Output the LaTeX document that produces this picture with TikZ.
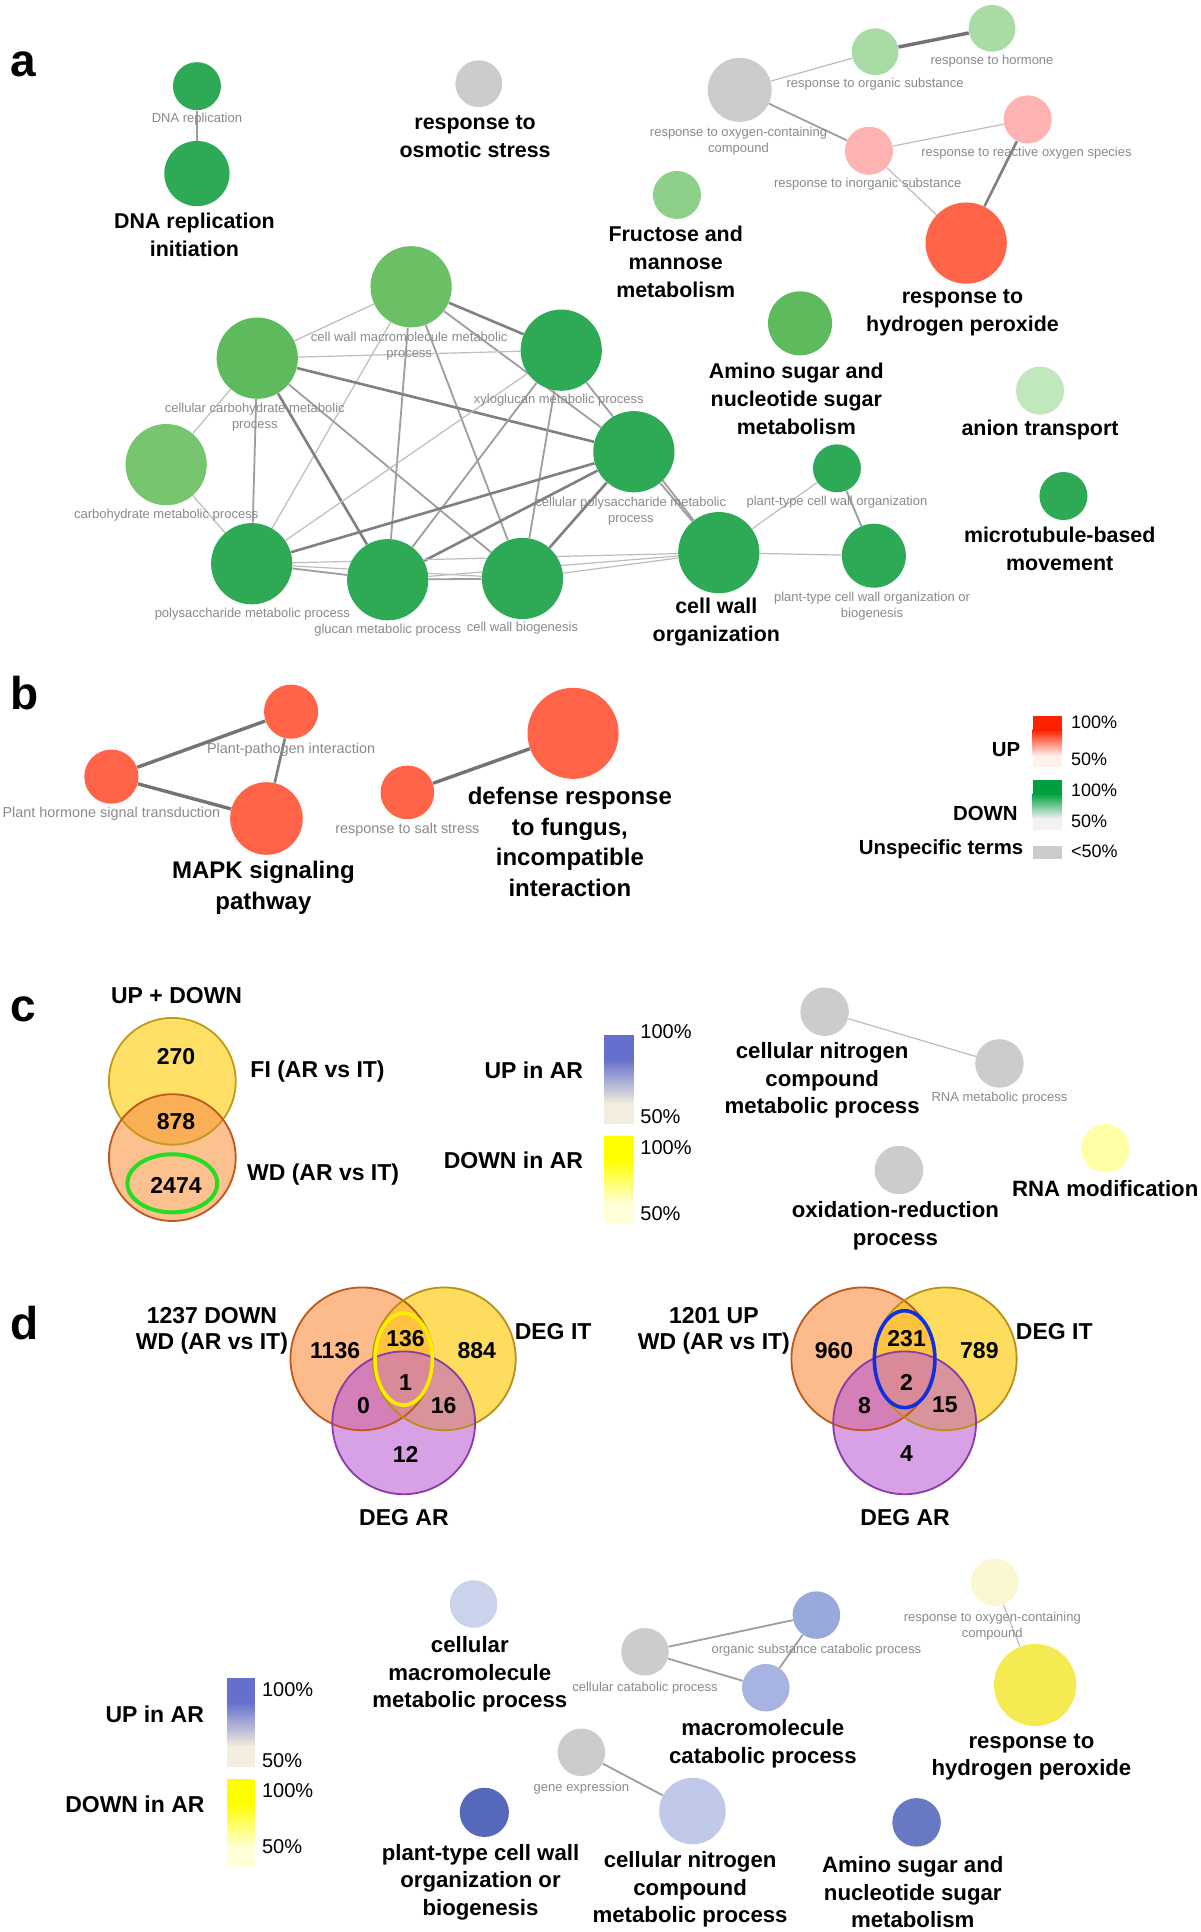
\documentclass[tikz,border=0pt]{standalone}
\usepackage{fontspec}
\setmainfont{Liberation Sans}
\pgfdeclarelayer{bgl}
\pgfdeclarelayer{edges}
\pgfsetlayers{bgl,edges,main}
% node colours
\definecolor{dg}{HTML}{2EAA57}
\definecolor{mgA}{HTML}{5DBA5D}
\definecolor{mgB}{HTML}{6BBF65}
\definecolor{mgC}{HTML}{77C56F}
\definecolor{fgr}{HTML}{8ED08A}
\definecolor{lgr}{HTML}{A9DCA5}
\definecolor{vlg}{HTML}{C1E7BD}
\definecolor{pnk}{HTML}{FFB2B2}
\definecolor{rdd}{HTML}{FF6449}
\definecolor{gry}{HTML}{CCCCCC}
\definecolor{lyel}{HTML}{FFFFA6}
\definecolor{bA}{HTML}{CBD3EC}
\definecolor{bB}{HTML}{98A9DB}
\definecolor{bC}{HTML}{A7B3E1}
\definecolor{bD}{HTML}{C1C9EB}
\definecolor{bE}{HTML}{5668B9}
\definecolor{bF}{HTML}{6878C3}
\definecolor{yA}{HTML}{FAF7D2}
\definecolor{yB}{HTML}{F6EA52}
% text / edge colours
\definecolor{glabc}{HTML}{8A8A8A}
\definecolor{ecl}{HTML}{BDBDBD}
\definecolor{ecm}{HTML}{9E9E9E}
\definecolor{ecd}{HTML}{808080}
% venn colours
\definecolor{cTop}{HTML}{FFE066}
\definecolor{cBot}{HTML}{FDC08F}
\definecolor{cInt}{HTML}{FAAE55}
\definecolor{cTopL}{HTML}{C09A1A}
\definecolor{cBotL}{HTML}{C0581B}
\definecolor{vgreen}{HTML}{22DD22}
\definecolor{dO}{HTML}{FDBB8B}
\definecolor{dY}{HTML}{FEDC5E}
\definecolor{dP}{HTML}{D8A1E6}
\definecolor{dOY}{HTML}{FFC23E}
\definecolor{dOP}{HTML}{D47FB8}
\definecolor{dYP}{HTML}{D9949B}
\definecolor{dOYP}{HTML}{D98A96}
\definecolor{dOL}{HTML}{C0571B}
\definecolor{dYL}{HTML}{B8901A}
\definecolor{dPL}{HTML}{8A3BA8}
\definecolor{innY}{HTML}{FFEE00}
\definecolor{innB}{HTML}{1030E0}
% legend colours
\definecolor{rbT}{HTML}{FF2200}
\definecolor{rbB}{HTML}{FFF2EC}
\definecolor{gbT}{HTML}{00A040}
\definecolor{gbB}{HTML}{F2F2F2}
\definecolor{ubT}{HTML}{6670CC}
\definecolor{ubB}{HTML}{F3EEDF}
\definecolor{ybT}{HTML}{FFFF00}
\definecolor{ybB}{HTML}{FFFFD8}

\newcommand\gbar[6]{%
  \fill[#5] (#1,#2) rectangle (#3,{#2+0.28*(#4-#2)});
  \shade[top color=#5,bottom color=#6] (#1,{#2+0.27*(#4-#2)}) rectangle (#3,{#2+0.78*(#4-#2)});
  \fill[#6] (#1,{#2+0.77*(#4-#2)}) rectangle (#3,#4);}

\newcommand\drawvenn[2]{%
  \fill[dO] (294,1104) circle[radius=58];
  \fill[dY] (361,1104) circle[radius=58];
  \fill[dP] (328,1156) circle[radius=58];
  \begin{scope}\clip (294,1104) circle[radius=58]; \fill[dOY] (361,1104) circle[radius=58];\end{scope}
  \begin{scope}\clip (294,1104) circle[radius=58]; \fill[dOP] (328,1156) circle[radius=58];\end{scope}
  \begin{scope}\clip (361,1104) circle[radius=58]; \fill[dYP] (328,1156) circle[radius=58];\end{scope}
  \begin{scope}\clip (294,1104) circle[radius=58]; \clip (361,1104) circle[radius=58]; \fill[dOYP] (328,1156) circle[radius=58];\end{scope}
  \draw[dOL,line width=0.9pt] (294,1104) circle[radius=58];
  \draw[dYL,line width=0.9pt] (361,1104) circle[radius=58];
  \draw[dPL,line width=0.9pt] (328,1156) circle[radius=58];
  \draw[#1,line width=1.8pt] (328,1104.3) ellipse[x radius=#2, y radius={#2*1.6}];}

\begin{document}
\begin{tikzpicture}[x=0.6154pt,y=-0.6154pt,
  bub/.style={circle,inner sep=0pt,minimum size={#1*1.2308pt}},
  glab/.style={text=glabc,font=\fontsize{6.5}{8}\selectfont,align=center,inner sep=0pt},
  glabB/.style={text=glabc,font=\fontsize{7.2}{8.6}\selectfont,align=center,inner sep=0pt},
  blabA/.style={text=black,font=\bfseries\fontsize{10.7}{14}\selectfont,align=center,inner sep=0pt},
  blabB/.style={text=black,font=\bfseries\fontsize{12}{15.4}\selectfont,align=center,inner sep=0pt},
  blabC/.style={text=black,font=\bfseries\fontsize{11.1}{13.8}\selectfont,align=center,inner sep=0pt},
  vnum/.style={font=\bfseries\fontsize{11.5}{13}\selectfont,inner sep=0pt},
  vlab/.style={font=\bfseries\fontsize{11.5}{13}\selectfont,align=center,inner sep=0pt},
  pct/.style={font=\fontsize{10}{12}\selectfont,anchor=west,inner sep=0pt},
  pctb/.style={font=\fontsize{9}{11}\selectfont,anchor=west,inner sep=0pt},
  legb/.style={font=\bfseries\fontsize{10.2}{12}\selectfont,inner sep=0pt},
  plet/.style={font=\bfseries\fontsize{23}{26}\selectfont,anchor=base west,inner sep=0pt},
  ethin/.style={draw=ecl,line width=0.6pt},
  emed/.style={draw=ecm,line width=0.9pt},
  ethk/.style={draw=ecd,line width=1.3pt},
  ebig/.style={draw=ecd!90!black,line width=1.7pt}]
\begin{pgfonlayer}{bgl}
\fill[white] (0,0) rectangle (975,1569.7);
\end{pgfonlayer}
\useasboundingbox (0,0) rectangle (975,1569.7);

% ================= panel a =================
\node[plet] (la) at (8,62.3) {a};
\node[bub=19.5,fill=dg] (dnar) at (160,70) {};
\node[glab] (dnarT) at (160,97) {DNA replication};
\node[bub=26.5,fill=dg] (dnai) at (160,141) {};
\node[blabA] (dnaiT) at (158,191) {DNA replication\\initiation};
\node[bub=19,fill=gry] (osm) at (389,68) {};
\node[blabA] (osmT) at (386,111) {response to\\osmotic stress};
\node[bub=26,fill=gry] (oxy) at (601,73) {};
\node[glab] (oxyT) at (600,114.5) {response to oxygen-containing\\compound};
\node[bub=19,fill=lgr] (org) at (711,42) {};
\node[glab] (orgT) at (711,68.5) {response to organic substance};
\node[bub=19,fill=lgr] (hor) at (806,23) {};
\node[glab] (horT) at (806,50) {response to hormone};
\node[bub=19.5,fill=pnk] (ino) at (706,122.5) {};
\node[glab] (inoT) at (705,150) {response to inorganic substance};
\node[bub=19.5,fill=pnk] (ros) at (835,97) {};
\node[glab] (rosT) at (834,124.6) {response to reactive oxygen species};
\node[bub=33,fill=rdd] (hp) at (785,197.5) {};
\node[blabA] (hpT) at (782,254) {response to\\hydrogen peroxide};
\node[bub=19.5,fill=fgr] (fru) at (550,158.4) {};
\node[blabA] (fruT) at (549,212.4) {Fructose and\\mannose\\metabolism};
\node[bub=26,fill=mgA] (ams) at (650,262.7) {};
\node[blabA] (amsT) at (647,324) {Amino sugar and\\nucleotide sugar\\metabolism};
\node[bub=19.5,fill=vlg] (ani) at (845,317.4) {};
\node[blabA] (aniT) at (845,349.4) {anion transport};
\node[bub=19.5,fill=dg] (mtb) at (864,403) {};
\node[blabA] (mtbT) at (861,445.8) {microtubule-based\\movement};

% big network
\node[bub=33,fill=mgB] (cwm) at (334,233) {};
\node[bub=33,fill=mgA] (ccm) at (209,291) {};
\node[bub=33,fill=mgC] (carb) at (135,377.5) {};
\node[bub=33,fill=dg] (xyl) at (456,284.5) {};
\node[bub=33,fill=dg] (cps) at (515,367) {};
\node[bub=33,fill=dg] (poly) at (204.5,458) {};
\node[bub=33,fill=dg] (glu) at (315,471) {};
\node[bub=33,fill=dg] (cwb) at (424.5,470) {};
\node[bub=33,fill=dg] (cwo) at (584,449) {};
\node[bub=19.5,fill=dg] (ptc) at (680,380.5) {};
\node[bub=26,fill=dg] (ptb) at (710,451.5) {};
\node[glab] (cwmT) at (332.5,281) {cell wall macromolecule metabolic\\process};
\node[glab] (ccmT) at (207,338.8) {cellular carbohydrate metabolic\\process};
\node[glab] (carbT) at (135,418.4) {carbohydrate metabolic process};
\node[glab] (xylT) at (454,325.5) {xyloglucan metabolic process};
\node[glab] (cpsT) at (512.5,415) {cellular polysaccharide metabolic\\process};
\node[glab] (polyT) at (205,499) {polysaccharide metabolic process};
\node[glab] (gluT) at (315,512) {glucan metabolic process};
\node[glab] (cwbT) at (424.5,510.5) {cell wall biogenesis};
\node[blabA] (cwoT) at (582,505) {cell wall\\organization};
\node[glab] (ptcT) at (680,408) {plant-type cell wall organization};
\node[glab] (ptbT) at (708.5,492.5) {plant-type cell wall organization or\\biogenesis};

\begin{pgfonlayer}{edges}
\draw[emed] (dnar) -- (dnai);
\draw[ethin] (oxy) -- (org);
\draw[ebig] (org) -- (hor);
\draw[emed] (oxy) -- (ino);
\draw[ethin] (ino) -- (ros);
\draw[ethin] (ino) -- (hp);
\draw[ethk] (ros) -- (hp);
% big network
\draw[ethin] (cwm) -- (ccm);
\draw[ethk] (cwm) -- (xyl);
\draw[emed] (cwm) -- (cps);
\draw[ethin] (cwm) -- (poly);
\draw[emed] (cwm) -- (glu);
\draw[emed] (cwm) -- (cwb);
\draw[ethin] (ccm) -- (xyl);
\draw[ethk] (ccm) -- (cps);
\draw[ethin] (ccm) -- (carb);
\draw[emed] (ccm) -- (poly);
\draw[ethk] (ccm) -- (glu);
\draw[emed] (ccm) -- (cwb);
\draw[ethin] (carb) -- (poly);
\draw[ethin] (xyl) -- (poly);
\draw[emed] (xyl) -- (glu);
\draw[emed] (xyl) -- (cwb);
\draw[emed] (xyl) -- (cwo);
\draw[ethk] (cps) -- (poly);
\draw[ethk] (cps) -- (glu);
\draw[ethk] (cps) -- (cwb);
\draw[emed] (cps) -- (cwo);
\draw[emed] (poly) -- (glu);
\draw[ethin] (poly) -- (cwb);
\draw[ethin] (poly) -- (cwo);
\draw[emed] (glu) -- (cwb);
\draw[ethin] (glu) -- (cwo);
\draw[ethin] (cwb) -- (cwo);
\draw[ethin] (cwo) -- (ptc);
\draw[ethin] (cwo) -- (ptb);
\draw[emed] (ptc) -- (ptb);
\end{pgfonlayer}

% ================= panel b =================
\node[plet] (lb) at (8,576.3) {b};
\node[bub=22,fill=rdd] (ppi) at (236.5,578.2) {};
\node[glabB] (ppiT) at (236.5,608.8) {Plant-pathogen interaction};
\node[bub=22,fill=rdd] (phst) at (90.5,631) {};
\node[glabB] (phstT) at (90.5,661.4) {Plant hormone signal transduction};
\node[bub=29.5,fill=rdd] (mapk) at (216.5,665) {};
\node[blabB] (mapkT) at (214,721) {MAPK signaling\\pathway};
\node[bub=21.8,fill=rdd] (salt) at (331,643.8) {};
\node[glabB] (saltT) at (331,674.4) {response to salt stress};
\node[bub=37,fill=rdd] (def) at (465.6,595.8) {};
\node[blabB] (defT) at (463,684) {defense response\\to fungus,\\incompatible\\interaction};
\begin{pgfonlayer}{edges}
\draw[ebig] (phst) -- (ppi);
\draw[ebig] (phst) -- (mapk);
\draw[ethk] (ppi) -- (mapk);
\draw[ebig] (salt) -- (def);
\end{pgfonlayer}
% legend b
\gbar{839}{582}{863}{623}{rbT}{rbB}
\gbar{839}{634}{863}{674}{gbT}{gbB}
\fill[gry] (839,687) rectangle (863,698);
\node[pctb] (bl1) at (870,587) {100\%};
\node[pctb] (bl2) at (870,617) {50\%};
\node[pctb] (bl3) at (870,642) {100\%};
\node[pctb] (bl4) at (870,667) {50\%};
\node[pctb] (bl5) at (870,692) {<50\%};
\node[legb] (blUP) at (817.4,609) {UP};
\node[legb] (blDN) at (800.6,661) {DOWN};
\node[legb] (blUS) at (764.6,690) {Unspecific terms};

% ================= panel c =================
\node[plet] (lc) at (8,830) {c};
\node[vlab] (cUD) at (143.5,809) {UP + DOWN};
\fill[cTop] (140,878.5) circle[radius=51.5];
\fill[cBot] (140,940.5) circle[radius=51.5];
\begin{scope}\clip (140,878.5) circle[radius=51.5]; \fill[cInt] (140,940.5) circle[radius=51.5];\end{scope}
\draw[cTopL,line width=0.9pt] (140,878.5) circle[radius=51.5];
\draw[cBotL,line width=0.9pt] (140,940.5) circle[radius=51.5];
\draw[vgreen,line width=2pt] (140,961.4) ellipse[x radius=36.5, y radius=23.6];
\node[vnum] (c270) at (143,858.5) {270};
\node[vnum] (c878) at (143,911) {878};
\node[vnum] (c2474) at (143,963.5) {2474};
\node[vlab] (cFI) at (258,871) {FI (AR vs IT)};
\node[vlab] (cWD) at (262.5,954.5) {WD (AR vs IT)};
% legend c
\gbar{491}{841}{515}{913}{ubT}{ubB}
\gbar{491}{923}{515}{994}{ybT}{ybB}
\node[pct] (cl1) at (520,838) {100\%};
\node[pct] (cl2) at (520,907) {50\%};
\node[pct] (cl3) at (520,932) {100\%};
\node[pct] (cl4) at (520,986) {50\%};
\node[vlab,anchor=east] (clUP) at (474,869.4) {UP in AR};
\node[vlab,anchor=east] (clDN) at (474,942.5) {DOWN in AR};
% network c
\node[bub=19.7,fill=gry] (cnc) at (670,822) {};
\node[blabC] (cncT) at (668,877.8) {cellular nitrogen\\compound\\metabolic process};
\node[bub=19.7,fill=gry] (rnm) at (812,864) {};
\node[glab] (rnmT) at (812,892.4) {RNA metabolic process};
\node[bub=19.7,fill=gry] (oxr) at (730.4,950.6) {};
\node[blabC] (oxrT) at (727.5,995.7) {oxidation-reduction\\process};
\node[bub=19.7,fill=lyel] (rmod) at (898,933) {};
\node[blabC] (rmodT) at (898,966) {RNA modification};
\begin{pgfonlayer}{edges}
\draw[ethin] (cnc) -- (rnm);
\end{pgfonlayer}

% ================= panel d =================
\node[plet] (ld) at (8,1088) {d};
\drawvenn{innY}{23.3}
\begin{scope}[shift={(407,0)}]
\drawvenn{innB}{24.6}
\end{scope}
\node[vnum] (d1136) at (272.3,1097) {1136};
\node[vnum] (d136) at (329.5,1087.4) {136};
\node[vnum] (d884) at (387.3,1097) {884};
\node[vnum] (d1) at (329.5,1123.4) {1};
\node[vnum] (d0) at (295.3,1141.6) {0};
\node[vnum] (d16) at (360.5,1141.6) {16};
\node[vnum] (d12) at (329.5,1181.3) {12};
\node[vlab] (dL1) at (172.2,1081.5) {1237 DOWN\\WD (AR vs IT)};
\node[vlab] (dIT1) at (449.4,1081.5) {DEG IT};
\node[vlab] (dAR1) at (328.2,1233) {DEG AR};
\node[vnum] (d960) at (677.6,1097) {960};
\node[vnum] (d231) at (736.6,1087.4) {231};
\node[vnum] (d789) at (795.7,1097) {789};
\node[vnum] (d2) at (736.6,1123.4) {2};
\node[vnum] (d8) at (702.4,1141.6) {8};
\node[vnum] (d15) at (767.7,1141.6) {15};
\node[vnum] (d4) at (736.6,1181.3) {4};
\node[vlab] (dL2) at (580,1081.5) {1201 UP\\WD (AR vs IT)};
\node[vlab] (dIT2) at (856.6,1081.5) {DEG IT};
\node[vlab] (dAR2) at (735.4,1233) {DEG AR};

% ================= bottom network =================
\gbar{184.6}{1363.6}{207}{1435.4}{ubT}{ubB}
\gbar{184.6}{1445.7}{207}{1516.6}{ybT}{ybB}
\node[pct] (el1) at (212.6,1373.1) {100\%};
\node[pct] (el2) at (212.6,1430.5) {50\%};
\node[pct] (el3) at (212.6,1454.8) {100\%};
\node[pct] (el4) at (212.6,1500.4) {50\%};
\node[vlab,anchor=east] (elUP) at (166,1392.6) {UP in AR};
\node[vlab,anchor=east] (elDN) at (166.5,1465.7) {DOWN in AR};

\node[bub=19.3,fill=bA] (cmm) at (384.8,1303.2) {};
\node[blabC] (cmmT) at (381.7,1360.4) {cellular\\macromolecule\\metabolic process};
\node[bub=19.3,fill=gry] (ccp) at (524,1342) {};
\node[glab] (ccpT) at (524,1371.2) {cellular catabolic process};
\node[bub=19.3,fill=bB] (osc) at (663.3,1312.2) {};
\node[glab] (oscT) at (663.3,1341) {organic substance catabolic process};
\node[bub=19.3,fill=bC] (mcp) at (622.2,1371.2) {};
\node[blabC] (mcpT) at (619.8,1416.8) {macromolecule\\catabolic process};
\node[bub=19.3,fill=yA] (roc) at (808.1,1285.6) {};
\node[glab] (rocT) at (806.2,1321.3) {response to oxygen-containing\\compound};
\node[bub=33.4,fill=yB] (rhp) at (841,1369) {};
\node[blabC] (rhpT) at (838,1427.6) {response to\\hydrogen peroxide};
\node[bub=19.3,fill=gry] (gen) at (472.4,1423.7) {};
\node[glab] (genT) at (472.4,1452.5) {gene expression};
\node[bub=27,fill=bD] (cnb) at (562.6,1471.4) {};
\node[blabC] (cnbT) at (560.7,1535.2) {cellular nitrogen\\compound\\metabolic process};
\node[bub=20,fill=bE] (ptw) at (393.5,1472.5) {};
\node[blabC] (ptwT) at (390.4,1529) {plant-type cell wall\\organization or\\biogenesis};
\node[bub=19.7,fill=bF] (amb) at (744.7,1480.6) {};
\node[blabC] (ambT) at (741.6,1537.3) {Amino sugar and\\nucleotide sugar\\metabolism};
\begin{pgfonlayer}{edges}
\draw[emed] (ccp) -- (osc);
\draw[emed] (ccp) -- (mcp);
\draw[emed] (osc) -- (mcp);
\draw[ethin] (roc) -- (rhp);
\draw[emed] (gen) -- (cnb);
\end{pgfonlayer}
\end{tikzpicture}
\end{document}
